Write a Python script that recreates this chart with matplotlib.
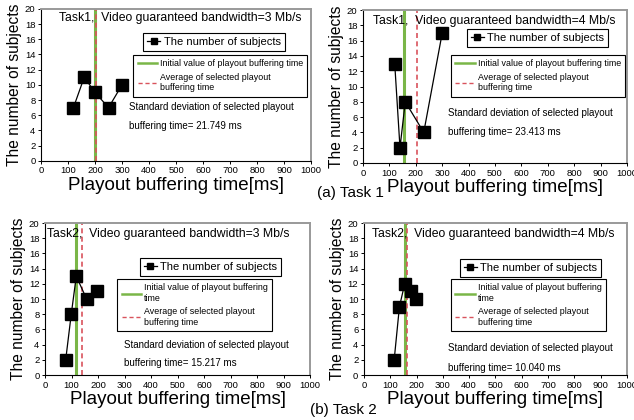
import matplotlib
matplotlib.use("Agg")
import matplotlib.pyplot as plt
from matplotlib.lines import Line2D

plt.rcParams["font.family"] = ["Liberation Sans", "DejaVu Sans"]

# selected playout buffering time [ms] and number of subjects
t1_3_x = [120, 160, 200, 250, 300]
t1_3_y = [7, 11, 9, 7, 10]
t1_4_x = [120, 140, 160, 230, 300]
t1_4_y = [13, 2, 8, 4, 17]
t2_3_x = [78, 99, 118, 157, 196]
t2_3_y = [2, 8, 13, 10, 11]
t2_4_x = [115, 135, 155, 180, 198]
t2_4_y = [2, 9, 12, 11, 10]

# initial value / average of selected buffering time
init_vals = [200, 155, 118, 157]
avg_vals = [205, 203, 141, 164]
bandwidths = ["3", "4", "3", "4"]
tasks = ["Task1", "Task1", "Task2", "Task2"]
std_vals = ["21.749", "23.413", "15.217", "10.040"]

green = "#7ab648"
red = "#d9535c"

fig = plt.figure(figsize=(6.34, 4.2), dpi=100)

rects = [
    [0.0647, 0.617, 0.426, 0.362],
    [0.5726, 0.612, 0.4164, 0.364],
    [0.071, 0.107, 0.418, 0.362],
    [0.574, 0.107, 0.415, 0.362],
]
data = [(t1_3_x, t1_3_y), (t1_4_x, t1_4_y), (t2_3_x, t2_3_y), (t2_4_x, t2_4_y)]

# layout per panel: title pos, legend1 anchor, legend2 anchor, std text pos
title_pos = [(0.067, 0.94), (0.039, 0.93), (0.006, 0.93), (0.032, 0.93)]
leg1_pos = [(0.378, 0.842), (0.393, 0.874), (0.358, 0.768), (0.364, 0.761)]
leg2_pos = [(0.341, 0.697), (0.333, 0.706), (0.273, 0.632), (0.331, 0.632)]
std_pos = [(0.326, 0.355, 0.23), (0.323, 0.325, 0.2), (0.298, 0.197, 0.077), (0.32, 0.18, 0.048)]
init_labels = [
    "Initial value of playout buffering time",
    "Initial value of playout buffering time",
    "Initial value of playout buffering\ntime",
    "Initial value of playout buffering\ntime",
]

for i in range(4):
    ax = fig.add_axes(rects[i])
    xs, ys = data[i]
    ax.axvline(init_vals[i], color=green, lw=2.2, zorder=2)
    ax.axvline(avg_vals[i], color=red, lw=1.2, ls=(0, (3, 2)), zorder=2)
    ax.plot(xs, ys, color="black", lw=0.9, marker="s", markersize=8,
            markerfacecolor="black", zorder=3)
    ax.set_xlim(0, 1000)
    ax.set_ylim(0, 20)
    ax.set_xticks(range(0, 1001, 100))
    ax.set_yticks(range(0, 21, 2))
    ax.tick_params(labelsize=6.8, length=2.5, width=0.7, pad=1.5)
    for s in ["top", "right"]:
        ax.spines[s].set_color("#999999")
        ax.spines[s].set_linewidth(1.4)
    for s in ["left", "bottom"]:
        ax.spines[s].set_linewidth(0.8)
    ax.set_xlabel("Playout buffering time[ms]", fontsize=13.5, labelpad=1)
    ax.set_ylabel("The number of subjects", fontsize=11.2, labelpad=2)

    ax.text(title_pos[i][0], title_pos[i][1],
            tasks[i] + ",  Video guaranteed bandwidth=" + bandwidths[i] + " Mb/s",
            transform=ax.transAxes, fontsize=8.8, va="center", ha="left")

    h1 = Line2D([], [], color="black", lw=0.9, marker="s", markersize=5)
    leg1 = ax.legend([h1], ["The number of subjects"], loc="upper left",
                     bbox_to_anchor=leg1_pos[i], borderaxespad=0, fontsize=8,
                     fancybox=False, edgecolor="black", framealpha=1,
                     handlelength=1.2, handletextpad=0.3, borderpad=0.35)
    leg1.get_frame().set_linewidth(0.8)
    ax.add_artist(leg1)

    h2 = Line2D([], [], color=green, lw=1.8)
    h3 = Line2D([], [], color=red, lw=1.0, ls=(0, (3, 2)))
    leg2 = ax.legend([h2, h3], [init_labels[i], "Average of selected playout\nbuffering time"],
                     loc="upper left", bbox_to_anchor=leg2_pos[i], borderaxespad=0,
                     fontsize=6.4, fancybox=False, edgecolor="black", framealpha=1,
                     handlelength=2.2, handletextpad=0.3, borderpad=0.5, labelspacing=0.5)
    leg2.get_frame().set_linewidth(0.8)

    ax.text(std_pos[i][0], std_pos[i][1], "Standard deviation of selected playout",
            transform=ax.transAxes, fontsize=7, va="center", ha="left")
    ax.text(std_pos[i][0], std_pos[i][2], "buffering time= " + std_vals[i] + " ms",
            transform=ax.transAxes, fontsize=7, va="center", ha="left")

fig.text(350 / 634, 1 - 193 / 420, "(a) Task 1", fontsize=11, ha="center", va="center")
fig.text(343 / 634, 1 - 410 / 420, "(b) Task 2", fontsize=11, ha="center", va="center")

fig.savefig("out.png", dpi=100)
